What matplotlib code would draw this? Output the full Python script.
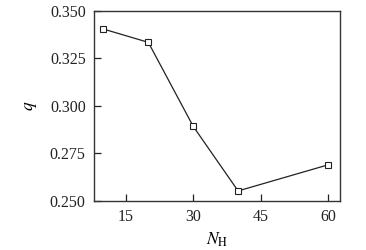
import numpy as np
import matplotlib.pyplot as plt

# data
nH = [10, 20, 30, 40, 60]
qValues = [0.3405, 0.3335, 0.2893, 0.2553, 0.2690]
xTicks = [15, 30, 45, 60]
yTicks = [0.250, 0.275, 0.300, 0.325, 0.350]

plt.rcParams['font.family'] = ['Liberation Serif', 'DejaVu Serif']
plt.rcParams['mathtext.fontset'] = 'stix'

fig = plt.figure(figsize=(3.66, 2.5), dpi=100)
ax = fig.add_axes([94 / 366, 1 - 201 / 250, 246 / 366, 190 / 250])

ax.plot(nH, qValues, color='#222222', linewidth=0.9, marker='s', markersize=4.6,
        markerfacecolor='white', markeredgecolor='#222222', markeredgewidth=0.8)

ax.set_xlim(7.9, 62.7)
ax.set_ylim(0.250, 0.350)
ax.set_xticks(xTicks)
ax.set_yticks(yTicks)
ax.set_yticklabels(['%.3f' % v for v in yTicks])
ax.tick_params(direction='in', length=5, width=0.9, labelsize=11.5, colors='#222222', pad=6)
for spine in ax.spines.values():
    spine.set_linewidth(1.0)
    spine.set_color('#333333')

ax.set_xlabel(r'$N_{\mathrm{H}}$', fontsize=12.5, labelpad=4)
ax.set_ylabel(r'$q$', fontsize=12.5, labelpad=8)

fig.savefig('out.png', dpi=100)
